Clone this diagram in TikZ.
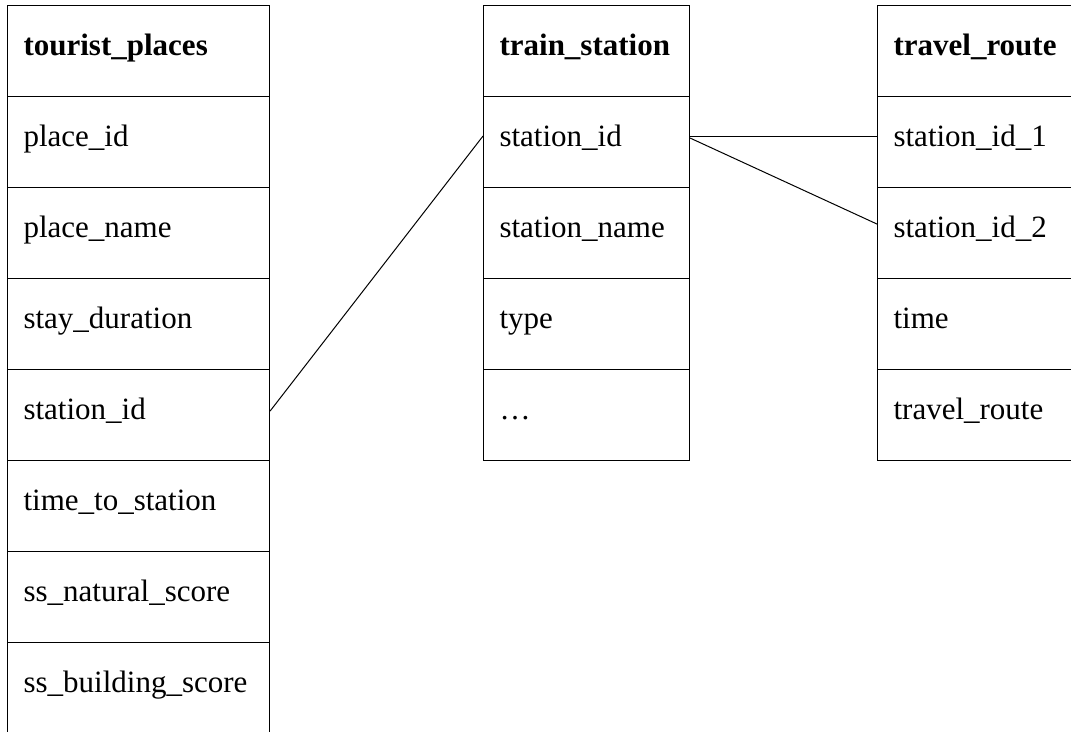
\documentclass[tikz,border=0pt]{standalone}
\usepackage{fontspec}
\setmainfont{Liberation Serif}
\begin{document}
\begin{tikzpicture}[x=1pt,y=-1pt,
  cell/.style={draw,line width=1.1pt,anchor=north west,inner xsep=16pt,inner ysep=0pt,
    text height=50pt,text depth=41pt,align=left,font=\fontsize{31}{36}\selectfont},
  headcell/.style={cell,font=\fontsize{31}{36}\selectfont\bfseries},
  link/.style={line width=1pt}]
\useasboundingbox (0,0) rectangle (1071,733);
\clip (0,0) rectangle (1071,731.5);
%tourist_places
\node [headcell,text width=230pt] (tp0) at (7,5) {tourist\_places};
\foreach \t [count=\i] in {place\_id,place\_name,stay\_duration,station\_id,time\_to\_station,ss\_natural\_score,ss\_building\_score}
	\node [cell,text width=230pt] (tp\i) at (7,5+91*\i) {\t};
%train_station
\node [headcell,text width=174pt] (ts0) at (483,5) {train\_station};
\foreach \t [count=\i] in {station\_id,station\_name,type,\ldots}
	\node [cell,text width=174pt] (ts\i) at (483,5+91*\i) {\t};
%travel_route
\node [headcell,text width=170pt] (tr0) at (877,5) {travel\_route};
\foreach \t [count=\i] in {station\_id\_1,station\_id\_2,time,travel\_route}
	\node [cell,text width=170pt] (tr\i) at (877,5+91*\i) {\t};

\draw [link] ([yshift=4pt]tp4.east) -- ([yshift=6pt]ts1.west);
\draw [link] ([yshift=6pt]ts1.east) -- ([yshift=6pt]tr1.west);
\draw [link] ([yshift=4pt]ts1.east) -- ([yshift=9pt]tr2.west);
\end{tikzpicture}
\end{document}
